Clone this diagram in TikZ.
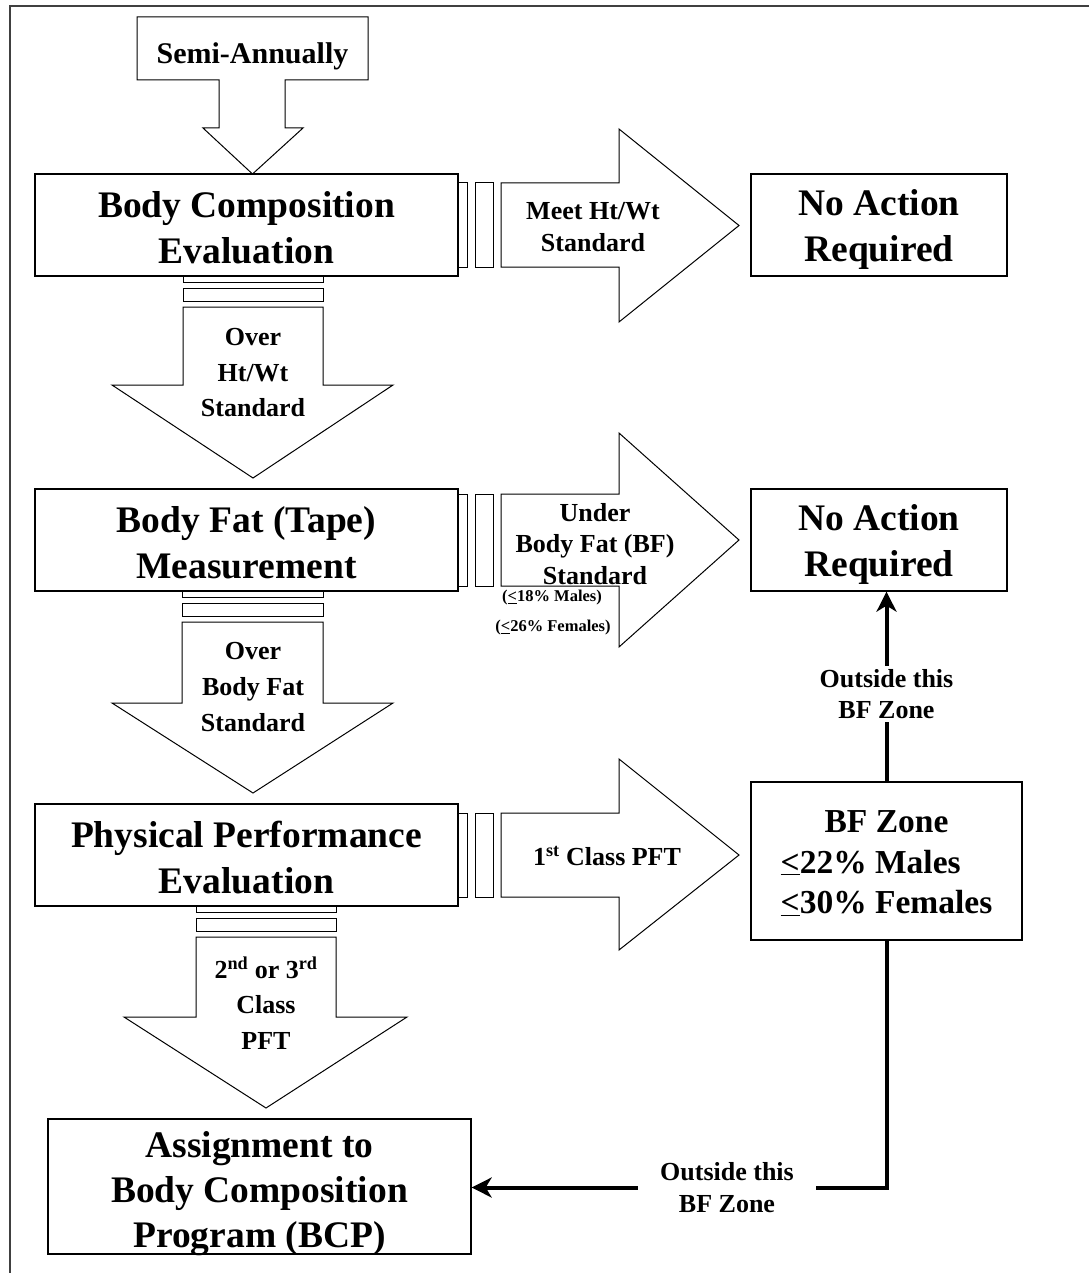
\documentclass[tikz,border=0pt]{standalone}
\usepackage{fontspec}
\setmainfont{Liberation Serif}
\usetikzlibrary{arrows.meta}
\begin{document}
\begin{tikzpicture}[x=1pt,y=-1pt,
  box/.style={draw, line width=1.3pt, inner sep=0pt},
  boxtext/.style={font=\fontsize{37.5}{46}\selectfont\bfseries, align=center, inner sep=0pt},
  blk/.style={draw, line width=1pt, fill=white, line join=miter},
  lbl/.style={font=\fontsize{26}{33}\selectfont\bfseries, align=center, inner sep=0pt},
  small/.style={font=\fontsize{16.5}{19}\selectfont\bfseries, inner sep=0pt},
  flow/.style={line width=4pt, line join=miter},
  flowarrow/.style={line width=4pt, -{Stealth[length=20pt,width=20pt,inset=6pt]}},
]
\useasboundingbox (0,0) rectangle (1089,1273);
\draw[line width=1.5pt, black!75] (10,1273) -- (10,6) -- (1089,6);

% Semi-annually callout
\draw[blk] (137,17) -- (368,17) -- (368,80) -- (285,80) -- (285,128) -- (303,128) -- (252.5,174)
  -- (203,128) -- (219,128) -- (219,80) -- (137,80) -- cycle;
\node[lbl, font=\fontsize{30}{33}\selectfont\bfseries, anchor=base] (semi) at (252.5,64) {Semi-Annually};

% main boxes
\node[box, minimum width=423pt, minimum height=102pt] (bce) at (246.5,225) {};
\node[boxtext] (bceT) at (246.5,228) {Body Composition\\Evaluation};
\node[box, minimum width=256pt, minimum height=102pt] (na1) at (879,225) {};
\node[boxtext] (na1T) at (879,229) {No Action\\Required};
\node[box, minimum width=423pt, minimum height=102pt] (bf) at (246.5,540) {};
\node[boxtext] (bfT) at (246.5,543) {Body Fat (Tape)\\Measurement};
\node[box, minimum width=256pt, minimum height=102pt] (na2) at (879,540) {};
\node[boxtext] (na2T) at (879,544) {No Action\\Required};
\node[box, minimum width=423pt, minimum height=102pt] (ppe) at (246.5,855) {};
\node[boxtext] (ppeT) at (246.5,858) {Physical Performance\\Evaluation};
\node[box, minimum width=271pt, minimum height=158pt] (zone) at (886.5,861) {};
\node[boxtext, font=\fontsize{33.5}{40.5}\selectfont\bfseries] (zoneT) at (886.5,865)
  {\begin{tabular}{@{}l@{}}\multicolumn{1}{c}{BF Zone}\\\underline{<}22\% Males\\\underline{<}30\% Females\end{tabular}};
\node[box, minimum width=423pt, minimum height=135pt] (bcp) at (259.5,1186.5) {};
\node[boxtext, font=\fontsize{37.5}{45}\selectfont\bfseries] (bcpT) at (259.5,1193.5) {Assignment to\\Body Composition\\Program (BCP)};

% right block arrows
\draw[blk] (458,183) rectangle (467,267);
\draw[blk] (475,183) rectangle (493,267);
\draw[blk] (501,183) -- (619,183) -- (619,129) -- (739,225.5) -- (619,322) -- (619,267) -- (501,267) -- cycle;
\node[lbl, font=\fontsize{26}{32}\selectfont\bfseries] (meet) at (593,227) {Meet Ht/Wt\\Standard};

\draw[blk] (458,494) rectangle (467,586);
\draw[blk] (475,494) rectangle (493,586);
\draw[blk] (501,494) -- (619,494) -- (619,433) -- (739,540) -- (619,647) -- (619,586) -- (501,586) -- cycle;
\node[lbl, font=\fontsize{26}{31.5}\selectfont\bfseries] (under) at (595,544) {Under\\Body Fat (BF)\\Standard};
\node[small] (m18) at (552,598) {(\underline{<}18\% Males)};
\node[small] (f26) at (553,628) {(\underline{<}26\% Females)};

\draw[blk] (458,813) rectangle (467,897);
\draw[blk] (475,813) rectangle (493,897);
\draw[blk] (501,813) -- (619,813) -- (619,759) -- (739,855) -- (619,950) -- (619,897) -- (501,897) -- cycle;
\node[lbl] (first) at (607,856) {1\textsuperscript{st} Class PFT};

% down block arrows
\draw[blk] (183,276) rectangle (323,282);
\draw[blk] (183,288) rectangle (323,301);
\draw[blk] (183,307) -- (323,307) -- (323,385) -- (393,385) -- (253,478) -- (112,385) -- (183,385) -- cycle;
\node[lbl, font=\fontsize{26}{35.5}\selectfont\bfseries] (over1) at (253,373) {Over\\Ht/Wt\\Standard};

\draw[blk] (182,591) rectangle (323,597);
\draw[blk] (182,603) rectangle (323,616);
\draw[blk] (182,622) -- (323,622) -- (323,703) -- (393,703) -- (253,793) -- (112,703) -- (182,703) -- cycle;
\node[lbl, font=\fontsize{26}{36}\selectfont\bfseries] (over2) at (253,687) {Over\\Body Fat\\Standard};

\draw[blk] (196,906) rectangle (336,912);
\draw[blk] (196,918) rectangle (336,931);
\draw[blk] (196,937) -- (336,937) -- (336,1017) -- (407,1017) -- (266,1108) -- (124,1017) -- (196,1017) -- cycle;
\node[lbl, font=\fontsize{26}{35.5}\selectfont\bfseries] (second) at (266,1003) {2\textsuperscript{nd} or 3\textsuperscript{rd}\\Class\\PFT};

% thick connectors
\node[lbl, font=\fontsize{26}{31.5}\selectfont\bfseries, inner ysep=3pt] (out1) at (886.5,694) {Outside this\\BF Zone};
\draw[flow] (zone.north) -- (out1.south);
\draw[flowarrow] (out1.north) -- (out1.north |- na2.south);

\node[lbl, font=\fontsize{26}{31.5}\selectfont\bfseries, inner xsep=22pt] (out2) at (727,1187.5) {Outside this\\BF Zone};
\draw[flow] (zone.south) |- (out2.east);
\draw[flowarrow] (out2.west) -- (out2.west -| bcp.east);
\end{tikzpicture}
\end{document}
